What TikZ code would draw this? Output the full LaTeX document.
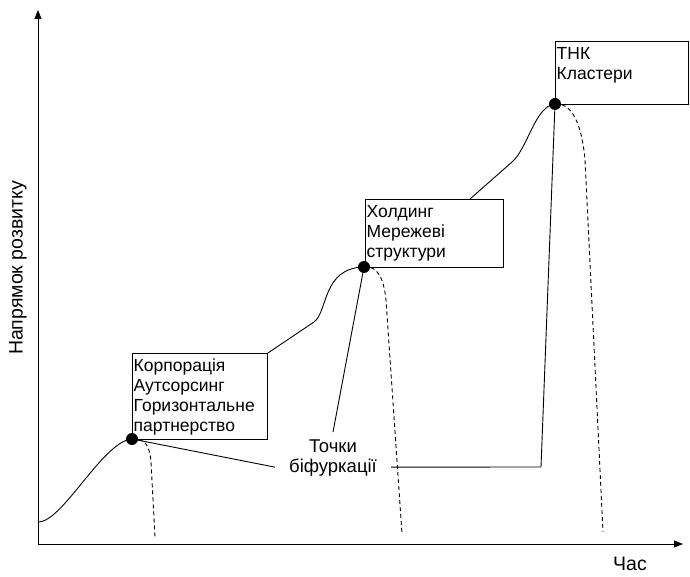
\documentclass[tikz,border=0pt]{standalone}
\usepackage{fontspec}
\setmainfont{Liberation Sans}
\usetikzlibrary{arrows.meta}
\begin{document}
\begin{tikzpicture}[x=1pt,y=-1pt,
  axis/.style={line width=1pt,-{Triangle[length=9pt,width=7pt]}},
  axislabel/.style={font=\fontsize{19.5}{22}\selectfont,inner sep=0pt},
  curve/.style={line width=0.9pt},
  branch/.style={line width=0.9pt,dash pattern=on 4pt off 3pt},
  leader/.style={line width=0.9pt},
  stagebox/.style={draw,line width=0.9pt,fill=white,rectangle,inner sep=0pt,anchor=north west},
  stagetext/.style={font=\fontsize{17.5}{20}\selectfont,anchor=north west,align=left,inner xsep=1.5pt,inner ysep=6pt},
  biflabel/.style={font=\fontsize{18.5}{20}\selectfont,inner xsep=14pt,inner ysep=7pt,anchor=base},
  bifdot/.style={circle,fill=black,inner sep=0pt,minimum size=12pt}]
\useasboundingbox (0,0) rectangle (690,577);

% axes
\coordinate (O) at (38,544);
\coordinate (ytip) at (38,10);
\coordinate (xtip) at (683,544);
\draw[axis] (O) -- (ytip);
\draw[axis] (O) -- (xtip);
\node[axislabel,rotate=90] (ylab) at (18,268) {Напрямок розвитку};
\node[axislabel,anchor=base] (tlab) at (630,570) {Час};

% stage boxes
\node[stagebox,minimum width=135pt,minimum height=86pt] (b1) at (132,353) {};
\node[stagetext] (t1) at (b1.north west) {Корпорація\\Аутсорсинг\\Горизонтальне\\партнерство};
\node[stagebox,minimum width=138pt,minimum height=68pt] (b2) at (365,199) {};
\node[stagetext] (t2) at (b2.north west) {Холдинг\\Мережеві\\структури};
\node[stagebox,minimum width=133pt,minimum height=63pt] (b3) at (555,41) {};
\node[stagetext] (t3) at (b3.north west) {ТНК\\Кластери};

% bifurcation points
\node[bifdot] (p1) at (132,439) {};
\node[bifdot] (p2) at (364,267) {};
\node[bifdot] (p3) at (555,104) {};

% development curve
\coordinate (s0) at (38,522);
\coordinate (c2) at (470,199);
\draw[curve] (s0) .. controls (62,523) and (103,441) .. (p1.center);
\draw[curve] (b1.north east) -- (314,322) .. controls (328,312) and (322,268) .. (p2.center);
\draw[curve] (c2) -- (512,162) .. controls (528,148) and (535,106) .. (p3.center);

% dashed branches falling away after each bifurcation
\coordinate (e1) at (155,537);
\coordinate (e2) at (402,534);
\coordinate (e3) at (603,532);
\draw[branch] (p1.center) .. controls (145,437) and (150,447) .. (151,462) -- (e1);
\draw[branch] (p2.center) .. controls (378,265) and (384,280) .. (386,300) -- (e2);
\draw[branch] (p3.center) .. controls (572,102) and (582,125) .. (585,160) -- (e3);

% label with leader lines
\node[biflabel] (tk) at (333,452) {Точки};
\node[biflabel] (bf) at (333,472) {біфуркації};
\coordinate (k3) at (541,467);
\draw[leader] (p1.center) -- (bf.west);
\draw[leader] (p2.center) -- (tk.north);
\draw[leader] (bf.east) -- (k3) -- (p3.center);
\end{tikzpicture}
\end{document}
